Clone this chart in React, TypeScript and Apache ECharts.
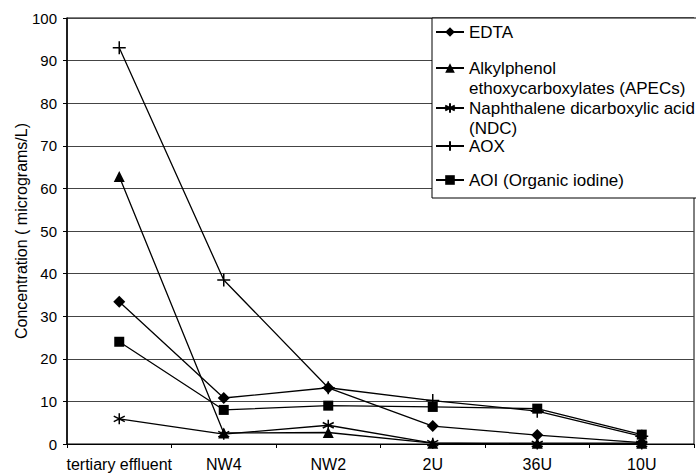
import React, { useEffect, useRef } from "react";
import * as echarts from "echarts";

const categories = ["tertiary effluent", "NW4", "NW2", "2U", "36U", "10U"];
const edta = [33.4, 10.8, 13.2, 4.2, 2.1, 0.3];
const apec = [62.8, 2.6, 2.7, 0.2, 0.2, 0.2];
const ndc = [5.9, 2.3, 4.4, 0.2, 0, 0];
const aox = [93, 38.5, 13.2, 10.2, 7.7, 1.8];
const aoi = [24, 8.0, 9.0, 8.7, 8.3, 2.2];
const yTicks = { min: 0, max: 100, interval: 10 };

const names = {
  edta: "EDTA",
  apec: "Alkylphenol ethoxycarboxylates (APECs)",
  ndc: "Naphthalene dicarboxylic acid (NDC)",
  aox: "AOX",
  aoi: "AOI (Organic iodine)",
};

const FONT = "Liberation Sans, Arial, sans-serif";
const ASTERISK = "path://M5,0 L5,10 M0.7,2.5 L9.3,7.5 M0.7,7.5 L9.3,2.5";
const PLUS = "path://M0,5 L10,5 M5,0 L5,10";

export default function App() {
  const ref = useRef<HTMLDivElement>(null);
  useEffect(() => {
    if (!ref.current) return;
    const chart = echarts.init(ref.current, null, { renderer: "svg" });
    const lineStyle = { color: "#000", width: 1.3 };
    const mk = (name: string, data: number[], symbol: string, size: number | number[], stroke = false) => ({
      name,
      type: "line",
      data,
      symbol,
      symbolSize: size,
      lineStyle,
      itemStyle: stroke
        ? { color: "#000", borderColor: "#000", borderWidth: 1.5 }
        : { color: "#000", borderColor: "#000", borderWidth: 0 },
      emphasis: { disabled: true },
      z: 2,
    });
    const legendText = { fontFamily: FONT, fontSize: 17, color: "#000", lineHeight: 20 };
    const mkLegend = (name: string, top: number, twoLine: boolean) => ({
      data: [name],
      left: 435,
      top,
      padding: 0,
      itemWidth: 28,
      itemHeight: 12,
      itemGap: 4,
      selectedMode: false,
      formatter: twoLine
        ? (n: string) => {
            if (n === names.apec) return "\nAlkylphenol\nethoxycarboxylates (APECs)";
            return "\nNaphthalene dicarboxylic acid\n(NDC)";
          }
        : undefined,
      textStyle: legendText,
      z: 5,
    });
    chart.setOption({
      animation: false,
      backgroundColor: "#fff",
      grid: {
        left: 67,
        right: 2,
        top: 18,
        bottom: 29,
        show: true,
        borderColor: "#000",
        borderWidth: 1,
        outerBoundsMode: "none",
      },
      xAxis: {
        type: "category",
        data: categories,
        boundaryGap: true,
        axisLine: { lineStyle: { color: "#000", width: 1.2 } },
        axisTick: { show: true, length: 4, lineStyle: { color: "#000" } },
        axisLabel: { color: "#000", fontFamily: FONT, fontSize: 16, margin: 12, interval: 0 },
      },
      yAxis: {
        type: "value",
        min: yTicks.min,
        max: yTicks.max,
        interval: yTicks.interval,
        name: "Concentration ( micrograms/L)",
        nameLocation: "middle",
        nameGap: 38,
        nameMoveOverlap: false,
        nameTextStyle: { color: "#000", fontFamily: FONT, fontSize: 16 },
        axisLine: { show: true, lineStyle: { color: "#000", width: 1.5 } },
        axisTick: { show: true, length: 4, lineStyle: { color: "#000" } },
        axisLabel: { color: "#000", fontFamily: FONT, fontSize: 15, margin: 10 },
        splitLine: { show: true, lineStyle: { color: "#444", width: 1 } },
      },
      graphic: {
        elements: [
          {
            type: "rect",
            shape: { x: 432, y: 18, width: 270, height: 180 },
            style: { fill: "#fff", stroke: "#000", lineWidth: 1 },
            z: 3,
          },
        ],
      },
      legend: [
        mkLegend(names.edta, 22, false),
        mkLegend(names.apec, 38, true),
        mkLegend(names.ndc, 78, true),
        mkLegend(names.aox, 136, false),
        mkLegend(names.aoi, 170, false),
      ],
      series: [
        mk(names.edta, edta, "diamond", 12),
        mk(names.apec, apec, "triangle", 11),
        mk(names.ndc, ndc, ASTERISK, 11, true),
        mk(names.aox, aox, PLUS, 13, true),
        mk(names.aoi, aoi, "rect", 10),
      ],
    });
    return () => chart.dispose();
  }, []);
  return (
    <div
      ref={ref}
      style={{ position: "fixed", left: 0, top: 0, width: 696, height: 473, background: "#fff" }}
    />
  );
}
